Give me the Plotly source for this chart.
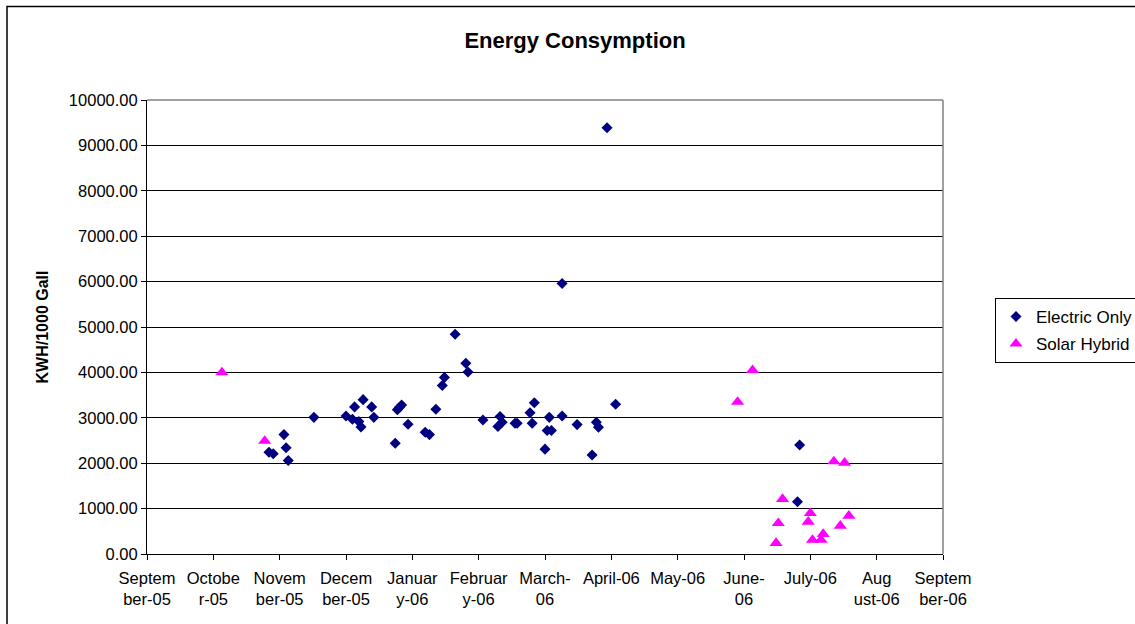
import plotly.graph_objects as go

# Electric-only heaters: reading date and energy use (KWH per 1000 gallons)
electric_dates = [
    "2005-10-28", "2005-10-30", "2005-11-04", "2005-11-05", "2005-11-06",
    "2005-11-18", "2005-12-03", "2005-12-06", "2005-12-07", "2005-12-09",
    "2005-12-10", "2005-12-11", "2005-12-15", "2005-12-16", "2005-12-26",
    "2005-12-27", "2005-12-28", "2005-12-29", "2006-01-01", "2006-01-09",
    "2006-01-11", "2006-01-14", "2006-01-17", "2006-01-18", "2006-01-23",
    "2006-01-28", "2006-01-29", "2006-02-05", "2006-02-12", "2006-02-13",
    "2006-02-14", "2006-02-20", "2006-02-21", "2006-02-27", "2006-02-28",
    "2006-03-01", "2006-03-06", "2006-03-07", "2006-03-08", "2006-03-09",
    "2006-03-14", "2006-03-14", "2006-03-21", "2006-03-28", "2006-03-30",
    "2006-03-31", "2006-04-04", "2006-04-08", "2006-07-02", "2006-07-03",
]
electric_kwh = [
    2240, 2210, 2630, 2340, 2060,
    3010, 3040, 2970, 3240, 2920,
    2800, 3400, 3240, 3010, 2440,
    3180, 3230, 3280, 2860, 2680,
    2630, 3190, 3710, 3890, 4840,
    4200, 4010, 2950, 2810, 3030,
    2900, 2880, 2880, 3110, 2880,
    3330, 2310, 2720, 3010, 2720,
    3040, 5960, 2850, 2180, 2900,
    2790, 9390, 3300, 1150, 2400,
]

# Solar hybrid heaters
solar_dates = [
    "2005-10-06", "2005-10-26", "2006-06-04", "2006-06-11", "2006-06-22",
    "2006-06-23", "2006-06-25", "2006-07-07", "2006-07-08", "2006-07-09",
    "2006-07-13", "2006-07-14", "2006-07-19", "2006-07-22", "2006-07-24",
    "2006-07-26",
]
solar_kwh = [
    4000, 2490, 3350, 4050, 240,
    680, 1210, 710, 900, 310,
    310, 440, 2040, 620, 2010,
    840,
]

# Date axis: 31-day major unit starting 1 Sept 2005
x_tick_dates = [
    "2005-09-01", "2005-10-02", "2005-11-02", "2005-12-03", "2006-01-03",
    "2006-02-03", "2006-03-06", "2006-04-06", "2006-05-07", "2006-06-07",
    "2006-07-08", "2006-08-08", "2006-09-08",
]
x_tick_labels = [
    "Septem<br>ber-05", "Octobe<br>r-05", "Novem<br>ber-05", "Decem<br>ber-05",
    "Januar<br>y-06", "Februar<br>y-06", "March-<br>06", "April-06", "May-06",
    "June-<br>06", "July-06", "Aug<br>ust-06", "Septem<br>ber-06",
]
y_ticks = [0, 1000, 2000, 3000, 4000, 5000, 6000, 7000, 8000, 9000, 10000]

FONT = "Liberation Sans, Arial, sans-serif"

fig = go.Figure()
fig.add_trace(go.Scatter(
    x=electric_dates, y=electric_kwh, mode="markers", name="Electric Only",
    legendgroup="e",
    marker=dict(symbol="diamond", size=8.5, color="#000080",
                line=dict(width=0)),
))
fig.add_trace(go.Scatter(
    x=solar_dates, y=solar_kwh, mode="markers", name="Solar Hybrid",
    legendgroup="s",
    marker=dict(symbol="triangle-up", size=11.5, color="#FF00FF",
                line=dict(width=0)),
))

W, H = 1135, 624
L, R, T, B = 147, 192, 100, 70
pw, ph = W - L - R, H - T - B


def px_x(p):
    return (p - L) / pw


def px_y(p):
    return (H - B - p) / ph


fig.update_layout(
    width=W, height=H,
    margin=dict(l=L, r=R, t=T, b=B, autoexpand=False),
    paper_bgcolor="white", plot_bgcolor="white",
    font=dict(family=FONT, size=16, color="black"),
    title=dict(text="<b>Energy Consymption</b>", x=px_x(575), xref="paper",
               xanchor="center", y=1 - 40 / H, yref="container",
               yanchor="middle", font=dict(size=22, color="black")),
    showlegend=True,
    legend=dict(x=px_x(995), y=px_y(298), xanchor="left", yanchor="top",
                bgcolor="white", bordercolor="black", borderwidth=1,
                font=dict(size=17, color="black"),
                traceorder="grouped", tracegroupgap=2,
                itemwidth=30),
    xaxis=dict(
        type="date", range=[x_tick_dates[0], x_tick_dates[-1]],
        tickmode="array", tickvals=x_tick_dates, ticktext=x_tick_labels,
        showline=True, linecolor="black", linewidth=1,
        ticks="outside", ticklen=5, tickcolor="black", tickwidth=1,
        showgrid=False, zeroline=False, automargin=False,
        tickfont=dict(size=16.5), ticklabelstandoff=4,
    ),
    yaxis=dict(
        range=[0, 10000], tickmode="array", tickvals=y_ticks,
        tickformat=".2f",
        showline=True, linecolor="black", linewidth=1,
        ticks="outside", ticklen=5, tickcolor="black", tickwidth=1,
        showgrid=True, gridcolor="black", gridwidth=1, zeroline=False,
        automargin=False, tickfont=dict(size=16.5),
        title=dict(text="<b>KWH/1000 Gall</b>", font=dict(size=16),
                   standoff=16),
    ),
    shapes=[
        # plot-area frame on the right and top
        dict(type="line", xref="paper", yref="paper", x0=1, x1=1, y0=0, y1=1,
             line=dict(color="#808080", width=1.5)),
        dict(type="line", xref="paper", yref="paper", x0=0, x1=1, y0=1, y1=1,
             line=dict(color="#808080", width=1.5)),
        # outer chart border
        dict(type="rect", xref="paper", yref="paper",
             x0=px_x(7), x1=px_x(1145), y0=px_y(640), y1=px_y(6.5),
             line=dict(color="black", width=1.5), layer="below"),
    ],
)

fig.write_html("out.html")
